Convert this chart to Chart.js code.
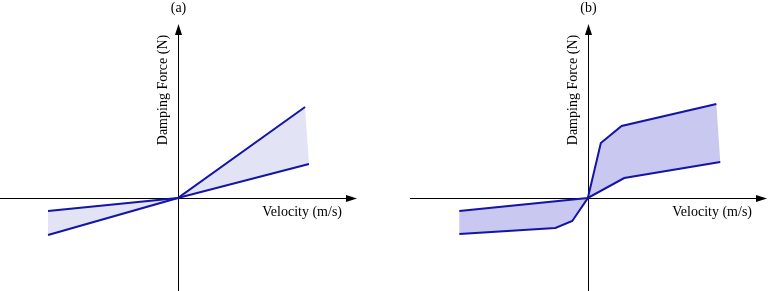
<!DOCTYPE html>
<html>
<head>
<meta charset="utf-8">
<script src="https://cdn.jsdelivr.net/npm/chart.js@4.4.1/dist/chart.umd.min.js"></script>
<style>
    html, body { margin: 0; padding: 0; background: #fff; }
    .panel { position: absolute; top: 0; }
</style>
</head>
<body>
<canvas id="chartA" class="panel" width="357" height="291" style="left:0"></canvas>
<canvas id="chartB" class="panel" width="357" height="291" style="left:410px"></canvas>
<script>
// (a) passive: two linear settings (velocity m/s, force N)
const velA_hard = [-1.0, 0, 0.98];
const forceA_hard = [-370, 0, 910];
const velA_soft = [-1.0, 0, 1.01];
const forceA_soft = [-130, 0, 340];

// (b) semi-active: piecewise settings
const velB_hard = [-0.99, -0.25, -0.12, 0, 0.10, 0.26, 0.99];
const forceB_hard = [-360, -300, -230, 0, 550, 720, 940];
const velB_soft = [-0.99, 0, 0.28, 1.02];
const forceB_soft = [-130, 0, 200, 360];

const X_LABEL = 'Velocity (m/s)';
const Y_LABEL = 'Damping Force (N)';

const LINE_COLOR = '#1414a8';
const SERIF = "'Liberation Serif', 'Times New Roman', serif";

const zip = (xs, ys) => xs.map((v, i) => ({ x: v, y: ys[i] }));

// axes through the origin with arrow heads, plus the axis labels
const arrowAxes = {
    id: 'arrowAxes',
    beforeDatasetsDraw(chart) {
        const { ctx, chartArea: a, scales: { x, y } } = chart;
        const x0 = Math.round(x.getPixelForValue(0)) + 0.5;
        const y0 = Math.round(y.getPixelForValue(0)) + 0.5;
        ctx.save();
        ctx.strokeStyle = '#000';
        ctx.fillStyle = '#000';
        ctx.lineWidth = 1;
        ctx.beginPath();
        ctx.moveTo(a.left, y0);
        ctx.lineTo(a.right - 6, y0);
        ctx.moveTo(x0, a.bottom);
        ctx.lineTo(x0, a.top + 6);
        ctx.stroke();

        ctx.beginPath();
        ctx.moveTo(a.right, y0);
        ctx.lineTo(a.right - 11, y0 - 3.5);
        ctx.lineTo(a.right - 11, y0 + 3.5);
        ctx.closePath();
        ctx.fill();

        ctx.beginPath();
        ctx.moveTo(x0, a.top);
        ctx.lineTo(x0 - 3.5, a.top + 11);
        ctx.lineTo(x0 + 3.5, a.top + 11);
        ctx.closePath();
        ctx.fill();
        ctx.restore();
    },
    afterDatasetsDraw(chart) {
        const { ctx, chartArea: a, scales: { x, y } } = chart;
        const x0 = x.getPixelForValue(0);
        const y0 = y.getPixelForValue(0);
        ctx.save();
        ctx.fillStyle = '#000';
        ctx.font = '14px ' + SERIF;
        ctx.textBaseline = 'middle';
        ctx.textAlign = 'right';
        ctx.fillText(X_LABEL, a.right - 15, y0 + 14);

        ctx.translate(x0 - 15, a.top + 66);
        ctx.rotate(-Math.PI / 2);
        ctx.textAlign = 'center';
        ctx.fillText(Y_LABEL, 0, 0);
        ctx.restore();
    },
};

function damperChart(canvas, title, hard, soft, fillColor) {
    // closed band: hard setting left->right, soft setting back right->left
    const band = hard.concat(soft.slice().reverse());

    return new Chart(canvas, {
        type: 'scatter',
        data: {
            datasets: [
                {
                    data: band,
                    showLine: true,
                    borderWidth: 0,
                    backgroundColor: fillColor,
                    fill: 'shape',
                    order: 3,
                },
                {
                    data: hard,
                    showLine: true,
                    borderColor: LINE_COLOR,
                    borderWidth: 2,
                    fill: false,
                    order: 1,
                },
                {
                    data: soft,
                    showLine: true,
                    borderColor: LINE_COLOR,
                    borderWidth: 2,
                    fill: false,
                    order: 2,
                },
            ],
        },
        options: {
            responsive: false,
            devicePixelRatio: 1,
            animation: false,
            events: [],
            layout: { padding: 0 },
            elements: { point: { radius: 0, hoverRadius: 0 } },
            plugins: {
                legend: { display: false },
                tooltip: { enabled: false },
                title: {
                    display: true,
                    text: title,
                    color: '#000',
                    font: { family: SERIF, size: 14, weight: 'normal' },
                    padding: { top: 0, bottom: 7.2 },
                },
            },
            scales: {
                x: { type: 'linear', display: false, min: -1.37, max: 1.38 },
                y: { type: 'linear', display: false, min: -930, max: 1740 },
            },
        },
        plugins: [arrowAxes],
    });
}

damperChart(document.getElementById('chartA'), '(a)',
    zip(velA_hard, forceA_hard), zip(velA_soft, forceA_soft), '#e3e3f6');
damperChart(document.getElementById('chartB'), '(b)',
    zip(velB_hard, forceB_hard), zip(velB_soft, forceB_soft), '#c8c8f1');
</script>
</body>
</html>
